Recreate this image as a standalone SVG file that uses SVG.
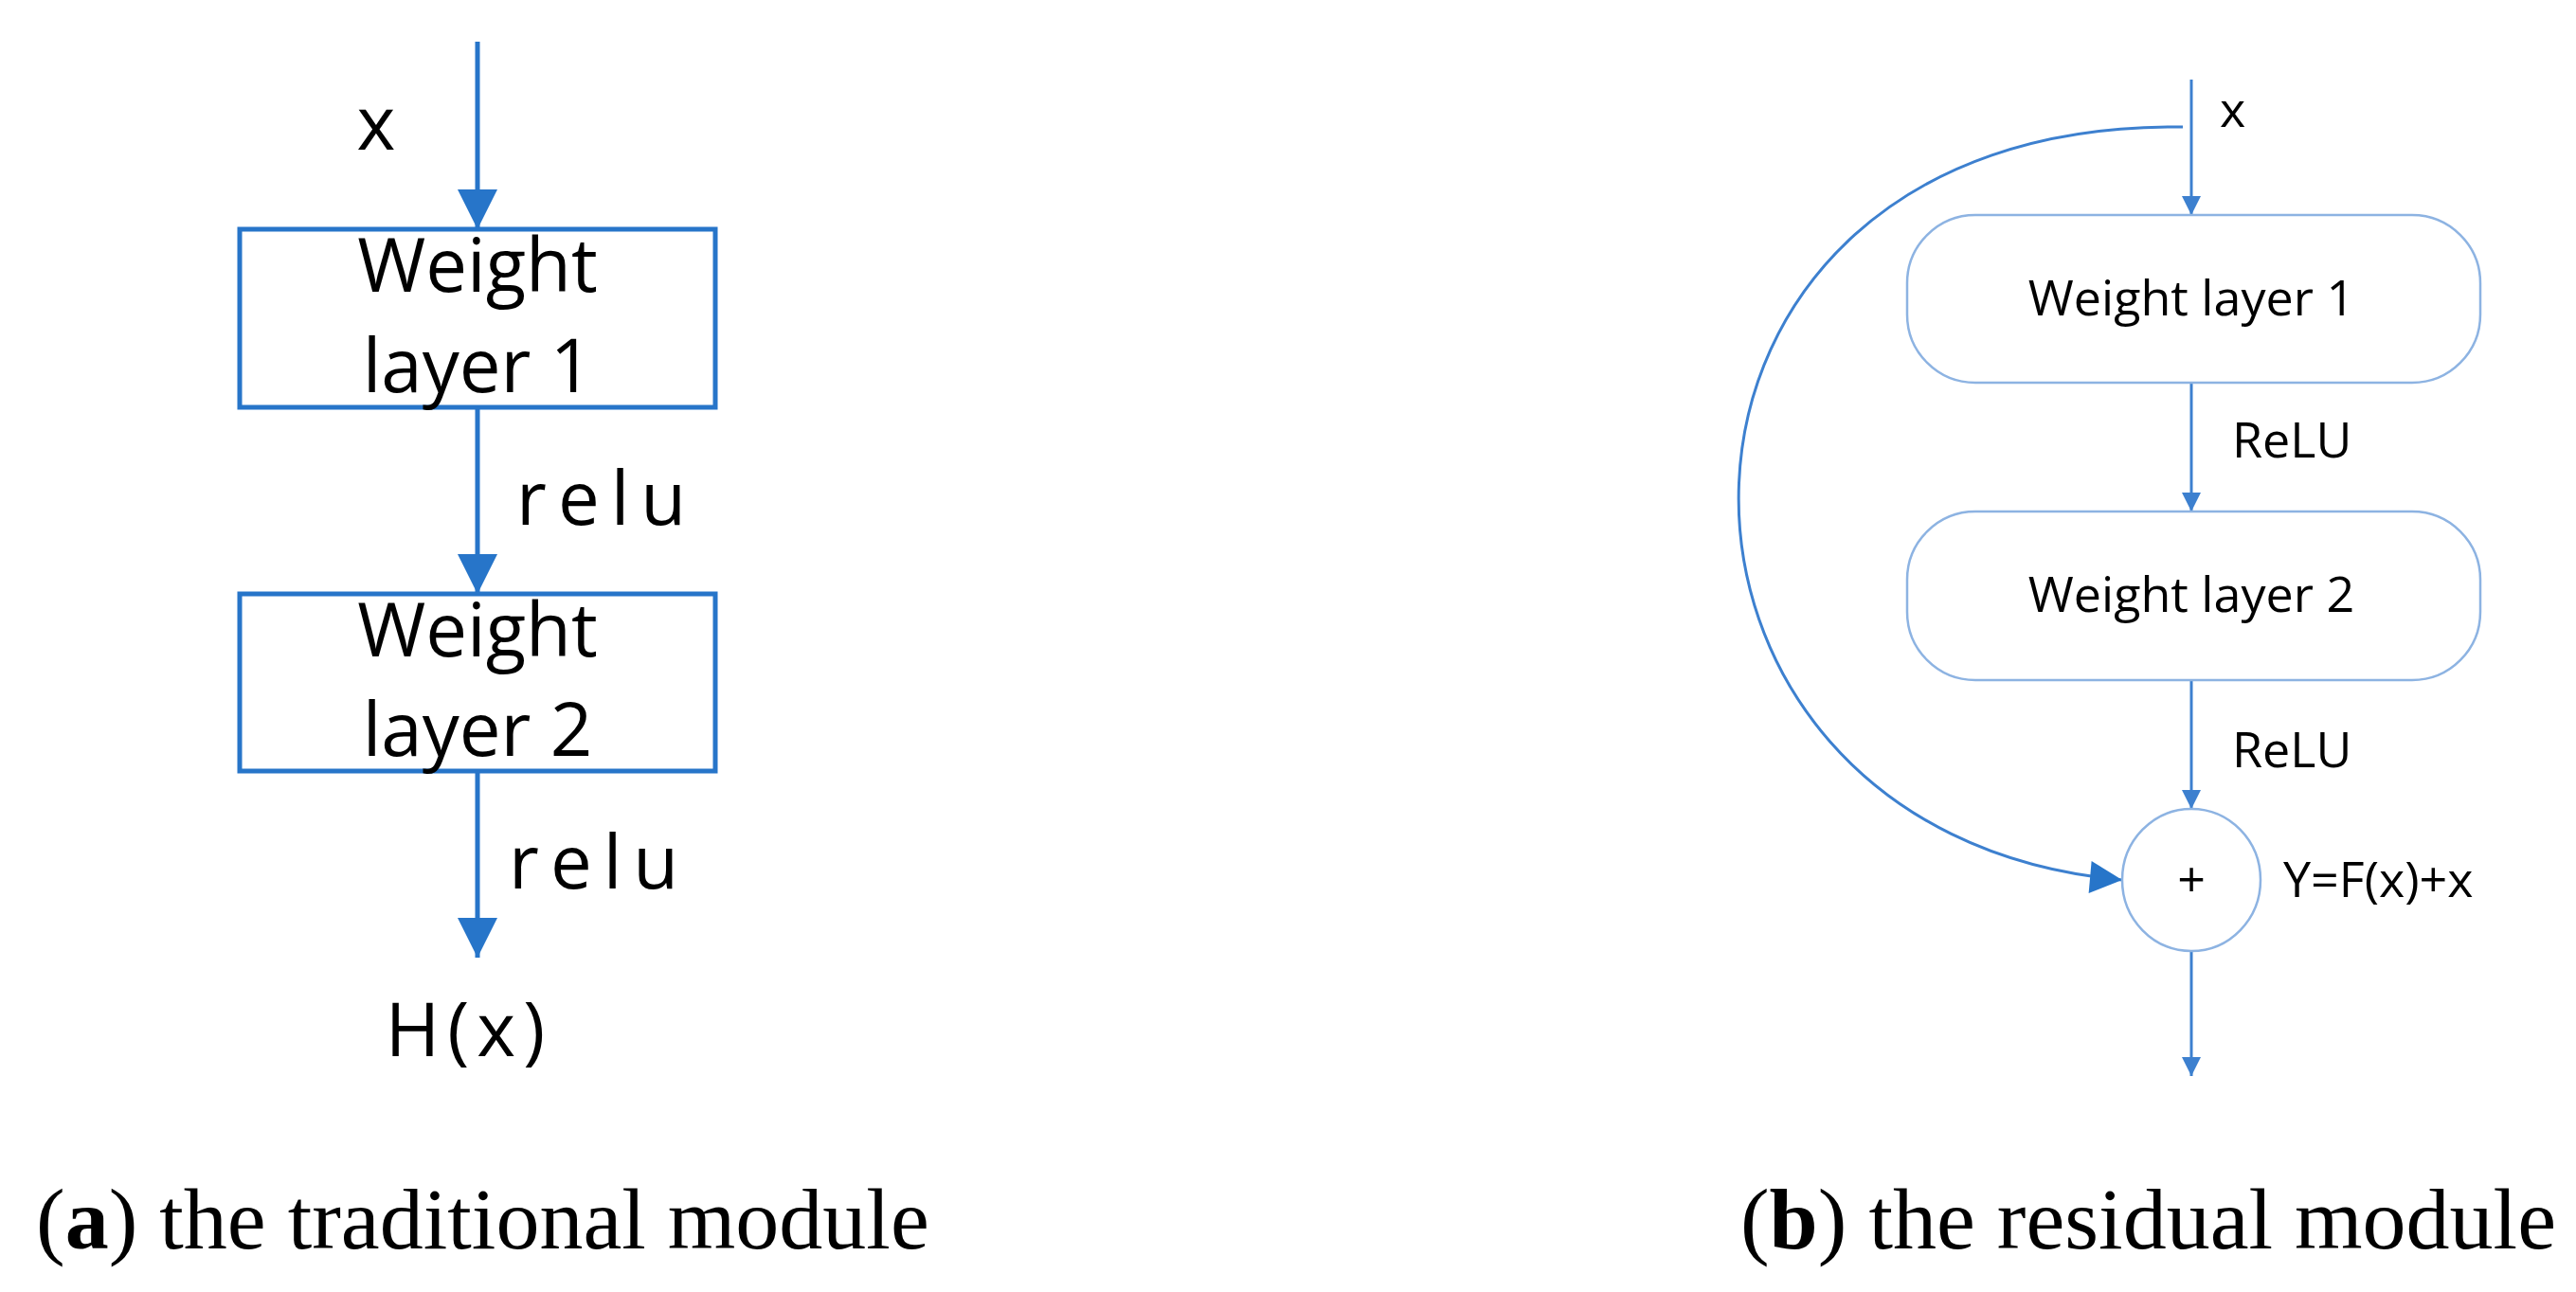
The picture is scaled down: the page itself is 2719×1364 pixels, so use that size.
<svg xmlns="http://www.w3.org/2000/svg" width="2719" height="1364" viewBox="0 0 2719 1364">
<defs>
<style>
.t{font-family:"Open Sans","Noto Sans",sans-serif;fill:#000}
.big{font-size:78px}
.sm{font-size:52px}
.lb{stroke:#2775c9;stroke-width:5;fill:none}
.rb{stroke:#3d80cf;stroke-width:3;fill:none}
.box{fill:#fff;stroke:#2775c9;stroke-width:5}
.rbox{fill:#fff;stroke:#8db3e2;stroke-width:2.5}
.cap{font-family:"Liberation Serif",serif;font-size:92px;fill:#000}
</style>
<marker id="ahl" viewBox="0 0 10 10" refX="10" refY="5" markerWidth="8.5" markerHeight="9" orient="auto"><path d="M0,0L10,5L0,10z" fill="#2775c9"/></marker>
<marker id="ahs" viewBox="0 0 10 10" refX="10" refY="5" markerWidth="22" markerHeight="20" markerUnits="userSpaceOnUse" orient="auto"><path d="M0,0L10,5L0,10z" fill="#3d80cf"/></marker>
<marker id="ahc" viewBox="0 0 10 10" refX="10" refY="5" markerWidth="36" markerHeight="34" markerUnits="userSpaceOnUse" orient="auto"><path d="M0,0L10,5L0,10z" fill="#2775c9"/></marker>
</defs>
<rect width="2719" height="1364" fill="#fff"/>
<g id="connectors">
<line class="lb" x1="504" y1="44" x2="504" y2="242" marker-end="url(#ahl)"/>
<line class="lb" x1="504" y1="430" x2="504" y2="627" marker-end="url(#ahl)"/>
<line class="lb" x1="504" y1="814" x2="504" y2="1011" marker-end="url(#ahl)"/>
<line class="rb" x1="2313" y1="84" x2="2313" y2="227" marker-end="url(#ahs)"/>
<line class="rb" x1="2313" y1="404" x2="2313" y2="540" marker-end="url(#ahs)"/>
<line class="rb" x1="2313" y1="718" x2="2313" y2="854" marker-end="url(#ahs)"/>
<line class="rb" x1="2313" y1="1004" x2="2313" y2="1136" marker-end="url(#ahs)"/>
<path class="rb" d="M2304,134 C1690,126 1690,880 2240,929" marker-end="url(#ahc)"/>
</g>
<text class="t big" x="397" y="158" text-anchor="middle">x</text>
<g id="wl1a"><rect class="box" x="253" y="242" width="502" height="188"/>
<text class="t big" x="504" y="308" text-anchor="middle">Weight</text>
<text class="t big" x="504" y="414" text-anchor="middle">layer 1</text></g>
<text class="t big" x="545" y="554" letter-spacing="12">relu</text>
<g id="wl2a"><rect class="box" x="253" y="627" width="502" height="187"/>
<text class="t big" x="504" y="693" text-anchor="middle">Weight</text>
<text class="t big" x="504" y="798" text-anchor="middle">layer 2</text></g>
<text class="t big" x="537" y="938" letter-spacing="12">relu</text>
<text class="t big" x="495" y="1115" text-anchor="middle" letter-spacing="8">H(x)</text>
<text class="t sm" x="2343" y="134">x</text>
<g id="wl1b"><rect class="rbox" x="2013" y="227" width="605" height="177" rx="72"/>
<text class="t sm" x="2313" y="333" text-anchor="middle">Weight layer 1</text></g>
<text class="t sm" x="2356" y="483">ReLU</text>
<g id="wl2b"><rect class="rbox" x="2013" y="540" width="605" height="178" rx="72"/>
<text class="t sm" x="2313" y="646" text-anchor="middle">Weight layer 2</text></g>
<text class="t sm" x="2356" y="810">ReLU</text>
<g id="sum"><ellipse class="rbox" cx="2313" cy="929" rx="73" ry="75"/>
<text class="t sm" x="2313" y="947" text-anchor="middle">+</text></g>
<text class="t sm" x="2410" y="947">Y=F(x)+x</text>
<text class="cap" x="38" y="1318">(<tspan font-weight="bold">a</tspan>) the traditional module</text>
<text class="cap" x="2698" y="1318" text-anchor="end">(<tspan font-weight="bold">b</tspan>) the residual module</text>
</svg>
